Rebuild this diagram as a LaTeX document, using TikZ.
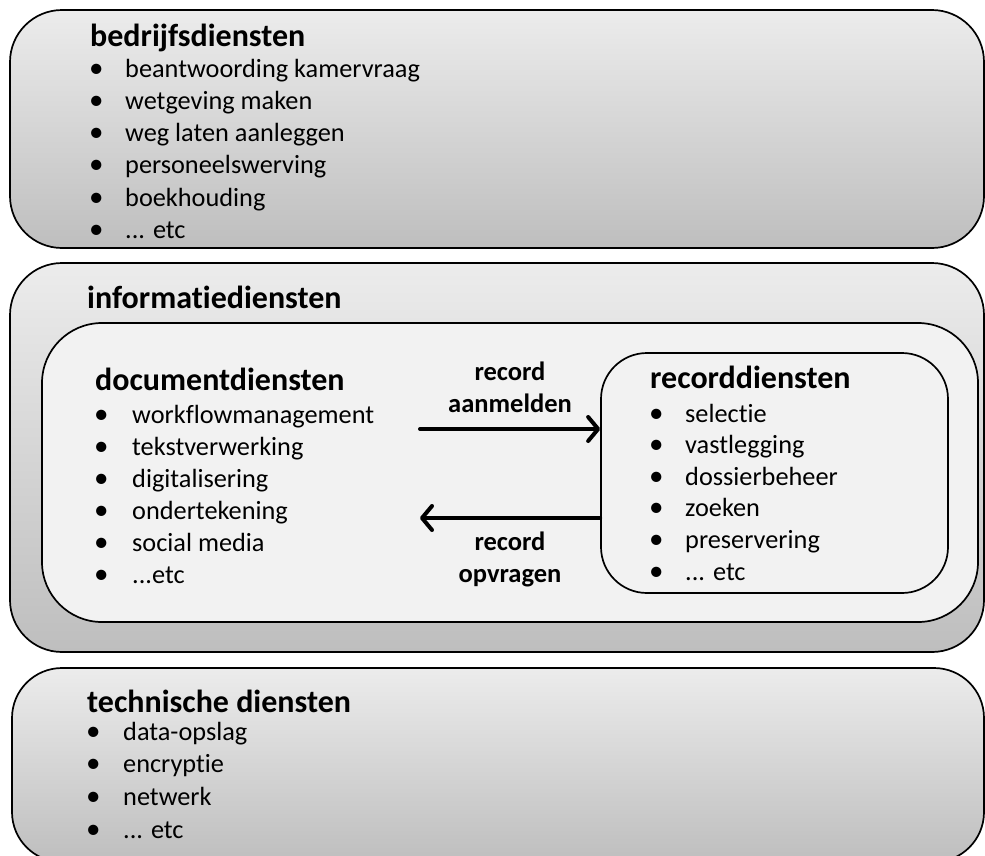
\documentclass[tikz,border=0pt]{standalone}
\usepackage{fontspec}
\setmainfont{Carlito}[Ligatures=NoCommon]
\usetikzlibrary{arrows.meta}
\definecolor{shadetop}{RGB}{236,236,236}
\definecolor{shadebot}{RGB}{190,190,190}
\definecolor{panelfill}{RGB}{242,242,242}

% three dots, kept out of \foreach lists (where ... means a range)
\newcommand\puntjes{...}

% bullet list: name prefix, bullet x, text x, first baseline, line step, items
\newcommand\dienstlijst[6]{%
  \foreach \t [count=\i from 0] in {#6} {
    \node[bulletmark, anchor=base west] (#1-b\i) at (#2, #4+#5*\i) {•};
    \node[itemtext, anchor=base west] (#1-t\i) at (#3, #4+#5*\i) {\t};
  }%
}

\begin{document}
\begin{tikzpicture}[x=1pt, y=-1pt,
  layer/.style={draw=black, line width=1.7pt, rounded corners=#1,
    top color=shadetop, bottom color=shadebot, inner sep=0pt},
  panel/.style={draw=black, line width=1.7pt, rounded corners=#1,
    fill=panelfill, inner sep=0pt},
  heading/.style={inner sep=0pt, font=\fontsize{32}{38}\selectfont\bfseries},
  itemtext/.style={inner sep=0pt, font=\fontsize{26.3}{32}\selectfont},
  bulletmark/.style={inner sep=0pt, font=\fontsize{29}{32}\selectfont},
  flowlabel/.style={inner sep=0pt, font=\fontsize{26.5}{32}\selectfont\bfseries},
  flow/.style={line width=4pt, line cap=round,
    -{Straight Barb[length=10pt, width=24pt, round]}}
]
\useasboundingbox (0,0) rectangle (985,855);

% three service layers
\node[layer=52pt, minimum width=974pt, minimum height=238pt] (bedrijf) at (497,129) {};
\node[layer=52pt, minimum width=974pt, minimum height=389pt] (info) at (497,457.5) {};
\node[layer=50pt, minimum width=972pt, minimum height=194pt] (tech) at (498,765) {};

% panels inside the information layer
\node[panel=60pt, minimum width=936pt, minimum height=299pt] (doc) at (510,472.5) {};
\node[panel=46pt, minimum width=347pt, minimum height=240pt] (rec) at (774.5,473) {};

% business services
\node[heading, anchor=base west] (bedrijf-h) at (90,46) {bedrijfsdiensten};
\dienstlijst{bd}{89}{125}{77}{32.3}{beantwoording kamervraag, wetgeving maken, weg laten aanleggen, personeelswerving, boekhouding, \puntjes{} etc}

% information services
\node[heading, anchor=base west] (info-h) at (87,308) {informatiediensten};

\node[heading, anchor=base west] (doc-h) at (95,390) {documentdiensten};
\dienstlijst{dd}{94}{132}{423}{32}{workflowmanagement, tekstverwerking, digitalisering, ondertekening, social media, \puntjes etc}

\node[heading, anchor=base west] (rec-h) at (650,388) {recorddiensten};
\dienstlijst{rd}{649}{685}{422}{31.6}{selectie, vastlegging, dossierbeheer, zoeken, preservering, \puntjes{} etc}

% record exchange between the two panels
\coordinate (in-start) at (420,429);
\coordinate (out-end) at (420,518);
\draw[flow] (in-start) -- (in-start -| rec.west);
\draw[flow] (out-end -| rec.west) -- (out-end);
\node[flowlabel, anchor=base] (in-l1) at (510,380) {record};
\node[flowlabel, anchor=base] (in-l2) at (510,412) {aanmelden};
\node[flowlabel, anchor=base] (out-l1) at (510,550) {record};
\node[flowlabel, anchor=base] (out-l2) at (510,582) {opvragen};

% technical services
\node[heading, anchor=base west] (tech-h) at (87,712) {technische diensten};
\dienstlijst{td}{86}{123}{740}{32.7}{data-opslag, encryptie, netwerk, \puntjes{} etc}
\end{tikzpicture}
\end{document}
